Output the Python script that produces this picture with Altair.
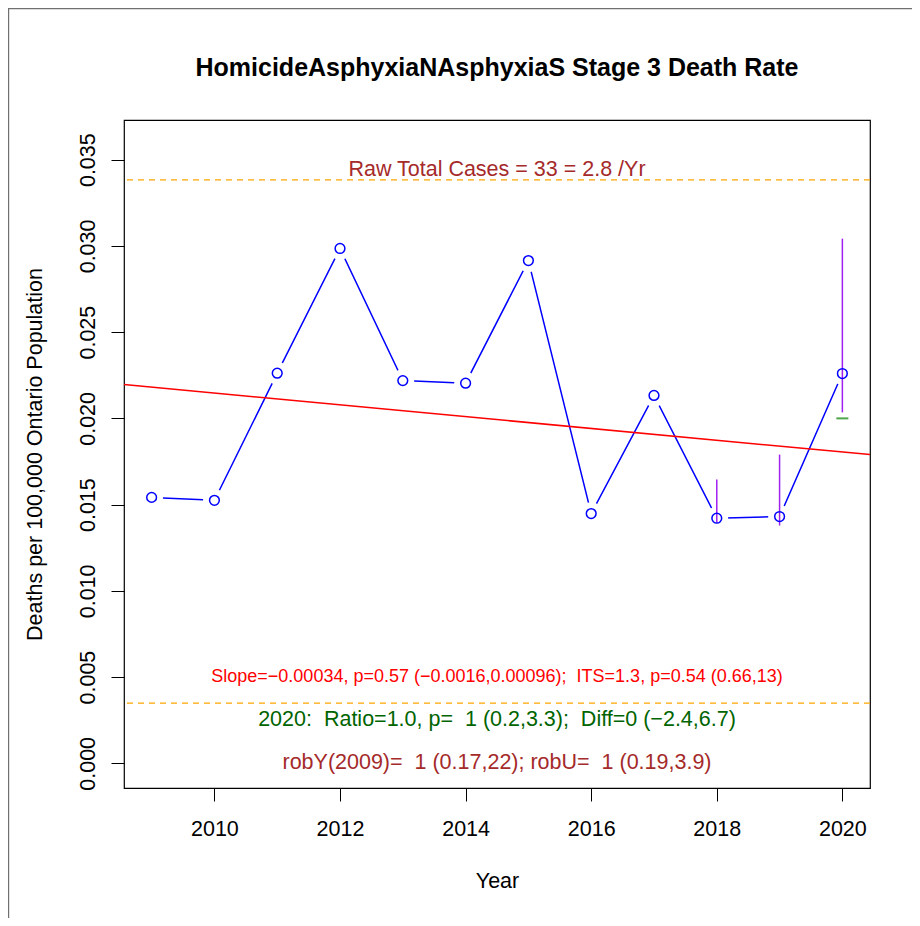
import altair as alt
import pandas as pd

# ---- data ----
years = [2009, 2010, 2011, 2012, 2013, 2014, 2015, 2016, 2017, 2018, 2019, 2020]
rates = [0.01542, 0.01525, 0.02262, 0.02985, 0.02219, 0.02204, 0.02915,
         0.01448, 0.02133, 0.01421, 0.01431, 0.02260]

trend_years = [2008.56, 2020.44]
trend_rates = [0.02196, 0.01790]

ci_years = [2018, 2019, 2020]
ci_lo = [0.01396, 0.01379, 0.02035]
ci_hi = [0.01645, 0.01790, 0.03042]

pred_year = [2020]
pred_rate = [0.0200]

ref_lines = [0.03383, 0.00349]

NB2 = " \u00a0"  # double space that SVG keeps
ann_text = [
    "Raw Total Cases = 33 = 2.8 /Yr",
    "Slope=\u22120.00034, p=0.57 (\u22120.0016,0.00096);" + NB2 + "ITS=1.3, p=0.54 (0.66,13)",
    "2020:" + NB2 + "Ratio=1.0, p=" + NB2 + "1 (0.2,3.3);" + NB2 + "Diff=0 (\u22122.4,6.7)",
    "robY(2009)=" + NB2 + "1 (0.17,22); robU=" + NB2 + "1 (0.19,3.9)",
]
ann_y = [0.03439, 0.0050, 0.0025, 0.0000]
ann_color = ["#A52A2A", "#FF0000", "#006400", "#A52A2A"]
ann_size = [21.5, 18.0, 21.5, 21.5]

x_ticks = [2010, 2012, 2014, 2016, 2018, 2020]
y_ticks = [0.000, 0.005, 0.010, 0.015, 0.020, 0.025, 0.030, 0.035]

title_text = "HomicideAsphyxiaNAsphyxiaS Stage 3 Death Rate"
x_title = "Year"
y_title = "Deaths per 100,000 Ontario Population"

# ---- layout ----
W, H = 746, 668
FONT = "Liberation Sans"

xscale = alt.Scale(domain=[2008.56, 2020.44], nice=False, zero=False)
yscale = alt.Scale(domain=[-0.00143, 0.0373], nice=False, zero=False)

xaxis = alt.Axis(values=x_ticks, format="d", title=x_title, grid=False, domain=False,
                 tickSize=13, tickColor="black", tickWidth=1,
                 labelFont=FONT, labelFontSize=21.5, labelColor="black",
                 labelBaseline="alphabetic", labelPadding=34.7, labelFlush=False,
                 labelOverlap=False,
                 titleFont=FONT, titleFontSize=21.5, titleFontWeight="normal",
                 titleColor="black", titleBaseline="alphabetic",
                 titleX=W / 2, titleY=99.3, titleAlign="center")
yaxis = alt.Axis(values=y_ticks, format=".3f", title=y_title, grid=False, domain=False,
                 tickSize=13, tickColor="black", tickWidth=1,
                 labelFont=FONT, labelFontSize=21.5, labelColor="black",
                 labelAngle=270, labelAlign="center", labelBaseline="alphabetic",
                 labelPadding=17, labelFlush=False, labelOverlap=False,
                 titleFont=FONT, titleFontSize=21.5, titleFontWeight="normal",
                 titleColor="black", titleAngle=270, titleBaseline="alphabetic",
                 titleAlign="center", titleX=-82.5, titleY=H / 2)


def X(field):
    return alt.X(f"{field}:Q", scale=xscale, axis=xaxis)


def Y(field):
    return alt.Y(f"{field}:Q", scale=yscale, axis=yaxis)


df = pd.DataFrame({"year": years, "rate": rates})
df_trend = pd.DataFrame({"year": trend_years, "rate": trend_rates})
df_ci = pd.DataFrame({"year": ci_years, "rate": ci_lo, "hi": ci_hi})
df_pred = pd.DataFrame({"year": pred_year, "rate": pred_rate})
df_ref = pd.DataFrame({"rate": ref_lines})
df_ann = pd.DataFrame({"year": [2014.5] * len(ann_text), "rate": ann_y,
                       "label": ann_text, "col": ann_color, "fs": ann_size})
df_one = pd.DataFrame({"t": [title_text]})

base = alt.Chart(df)
one = alt.Chart(df_one)

ref = alt.Chart(df_ref).mark_rule(color="#FFA500", strokeDash=[6, 5], strokeWidth=1.4).encode(
    y=Y("rate"))

line = base.mark_line(color="#0000FF", strokeWidth=1.5).encode(x=X("year"), y=Y("rate"))

gaps = base.mark_point(shape="circle", filled=True, fill="white", strokeOpacity=0,
                       opacity=1, size=520).encode(x=X("year"), y=Y("rate"))

trend = alt.Chart(df_trend).mark_line(color="#FF0000", strokeWidth=1.5).encode(
    x=X("year"), y=Y("rate"))

ci = alt.Chart(df_ci).mark_rule(color="#A020F0", strokeWidth=1.5).encode(
    x=X("year"), y=Y("rate"), y2="hi:Q")

pred = alt.Chart(df_pred).mark_tick(orient="horizontal", size=12, thickness=2,
                                    color="#008000").encode(x=X("year"), y=Y("rate"))

pts = base.mark_point(shape="circle", filled=False, color="#0000FF", size=95,
                      strokeWidth=1.5, opacity=1).encode(x=X("year"), y=Y("rate"))

ann = alt.Chart(df_ann).mark_text(font=FONT, align="center", baseline="middle").encode(
    x=X("year"), y=Y("rate"), text="label:N",
    color=alt.Color("col:N", scale=None),
    size=alt.Size("fs:Q", scale=None))

title = one.mark_text(font=FONT, fontSize=25, fontWeight="bold", color="black",
                      align="center", baseline="alphabetic").encode(
    x=alt.value(W / 2), y=alt.value(-44.3), text="t:N")

border_left = one.mark_rule(color="#707070", strokeWidth=1.2).encode(
    x=alt.value(-115.4), y=alt.value(-112), y2=alt.value(H + 130))
border_top = one.mark_rule(color="#707070", strokeWidth=1.2).encode(
    x=alt.value(-116), x2=alt.value(W + 42), y=alt.value(-111.4))

chart = alt.layer(
    ref, line, gaps, trend, ci, pred, pts, ann, title, border_left, border_top
).properties(
    width=W, height=H,
    background="white",
    padding={"left": 116, "top": 112, "right": 42, "bottom": 130},
    autosize=alt.AutoSizeParams(type="none"),
).configure_view(
    stroke="black", strokeWidth=1.2
)

chart.save("out.html", embed_options={"renderer": "svg", "actions": False})
